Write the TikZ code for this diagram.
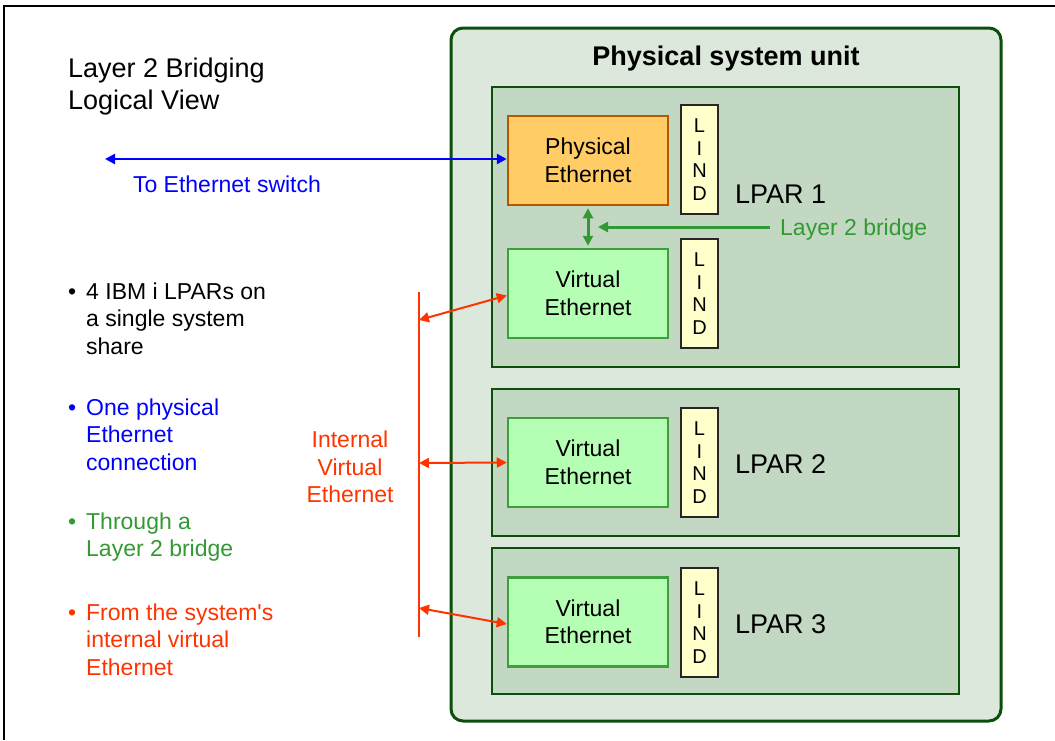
\documentclass[tikz,border=0pt]{standalone}
\usepackage{fontspec}
\setmainfont{Liberation Sans}
\usetikzlibrary{arrows.meta,positioning}
\definecolor{unitfill}{HTML}{DBE8DB}
\definecolor{unitedge}{HTML}{0B4F0B}
\definecolor{lparfill}{HTML}{C2D8C2}
\definecolor{physfill}{HTML}{FFCC66}
\definecolor{physedge}{HTML}{B35A00}
\definecolor{virtfill}{HTML}{B5FFB5}
\definecolor{virtedge}{HTML}{3C9E3C}
\definecolor{lindfill}{HTML}{FFFFCC}
\definecolor{netblue}{HTML}{0000FF}
\definecolor{bridgegreen}{HTML}{339933}
\definecolor{vethred}{HTML}{FF3300}
\newcommand{\bulmark}{\makebox[18pt][l]{\textbullet}}
\newcommand{\bulgap}{\hspace*{18pt}}

\begin{document}
\begin{tikzpicture}[x=1pt,y=-1pt,
  txt/.style={inner sep=0pt, font=\fontsize{23}{27.5}\selectfont},
  bigtxt/.style={inner sep=0pt, font=\fontsize{27}{32}\selectfont},
  unitbox/.style={draw=unitedge, line width=3pt, fill=unitfill, rounded corners=12pt,
    minimum width=550pt, minimum height=693pt},
  lparbox/.style={draw=unitedge, line width=2pt, fill=lparfill, minimum width=467pt},
  physbox/.style={txt, draw=physedge, line width=2.5pt, fill=physfill, align=center,
    minimum width=160pt, minimum height=89pt},
  virtbox/.style={physbox, draw=virtedge, fill=virtfill},
  lindbox/.style={draw=black!85, line width=2pt, fill=lindfill, inner sep=0pt, align=center,
    minimum width=37pt, minimum height=109pt, font=\fontsize{20}{22.5}\selectfont},
  link/.style={line width=2.5pt, {Triangle[length=10pt,width=10pt]}-{Triangle[length=10pt,width=10pt]}},
  ]
  \useasboundingbox (0,0) rectangle (1055,740);
  \draw[line width=1.2pt] (4,740) -- (4,6) -- (1055,6);

  % system unit and its partitions
  \node[unitbox] (unit) at (726,374.5) {};
  \node[bigtxt, font=\fontsize{27}{32}\selectfont\bfseries] (unittitle) at (726,59) {Physical system unit};
  \node[lparbox, minimum height=280pt] (lpar1) at (725.5,227) {};
  \node[lparbox, minimum height=147pt] (lpar2) at (725.5,462.5) {};
  \node[lparbox, minimum height=146pt] (lpar3) at (725.5,621) {};

  \node[physbox] (pe) at (588,160.5) {Physical\\Ethernet};
  \node[virtbox] (ve1) at (588,293.5) {Virtual\\Ethernet};
  \node[virtbox] (ve2) at (588,462.5) {Virtual\\Ethernet};
  \node[virtbox] (ve3) at (588,622) {Virtual\\Ethernet};
  \node[lindbox] (lind1) at (699.5,159.5) {L\\I\\N\\D};
  \node[lindbox] (lind2) at (699.5,293.5) {L\\I\\N\\D};
  \node[lindbox] (lind3) at (699.5,462.5) {L\\I\\N\\D};
  \node[lindbox] (lind4) at (699.5,622.5) {L\\I\\N\\D};
  \node[bigtxt, anchor=west] (lpar1lbl) at (735,194) {LPAR 1};
  \node[bigtxt, anchor=west] (lpar2lbl) at (735,464) {LPAR 2};
  \node[bigtxt, anchor=west] (lpar3lbl) at (735,624) {LPAR 3};

  % layer 2 bridge
  \draw[link, bridgegreen, line width=3pt] ([yshift=-2pt]pe.south) -- ([yshift=2pt]ve1.north);
  \node[txt, bridgegreen, anchor=west] (bridge) at (780,230) {Layer 2 bridge};
  \coordinate (bridgetip) at (598,227);
  \draw[bridgegreen, line width=3pt, -{Triangle[length=10pt,width=10pt]}, shorten <=10pt] (bridge.west |- bridgetip) -- (bridgetip);

  % external switch
  \coordinate (switch) at (105,159);
  \draw[link, netblue] (switch) -- (switch -| pe.west);
  \node[txt, netblue] (switchlbl) at (227,184) {To Ethernet switch};

  % internal virtual ethernet
  \coordinate (bustop) at (419,292);
  \coordinate (busbot) at (419,637);
  \draw[vethred, line width=2.5pt] (bustop) -- (busbot);
  \coordinate (tap1) at (419,320);
  \coordinate (tap2) at (419,463);
  \coordinate (tap3) at (419,608);
  \draw[link, vethred, line width=2pt] (tap1) -- ([yshift=-2pt]ve1.west);
  \draw[link, vethred, line width=2pt] (tap2) -- (ve2.west);
  \draw[link, vethred, line width=2pt] (tap3) -- ([yshift=-2pt]ve3.west);
  \node[txt, vethred, align=center] (busname) at (350,467) {Internal\\Virtual\\Ethernet};

  % left side text
  \node[bigtxt, anchor=west, align=left] (title) at (68,87) {Layer 2 Bridging\\Logical View};
  \node[txt, anchor=west, align=left] (pt1) at (68,318.5)
    {\bulmark 4 IBM i LPARs on\\\bulgap a single system\\\bulgap share};
  \node[txt, anchor=west, align=left, netblue] (pt2) at (68,434.5)
    {\bulmark One physical\\\bulgap Ethernet\\\bulgap connection};
  \node[txt, anchor=west, align=left, bridgegreen] (pt3) at (68,537)
    {\bulmark Through a\\\bulgap Layer 2 bridge};
  \node[txt, anchor=west, align=left, vethred] (pt4) at (68,639.5)
    {\bulmark From the system\textquotesingle s\\\bulgap internal virtual\\\bulgap Ethernet};
\end{tikzpicture}
\end{document}
